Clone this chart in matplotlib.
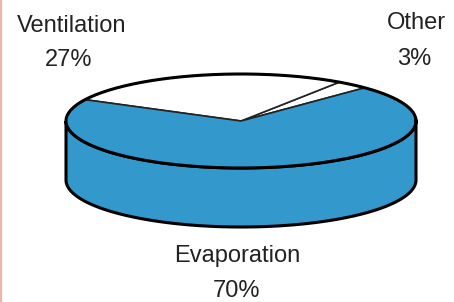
import numpy as np
import matplotlib
matplotlib.use("Agg")
import matplotlib.pyplot as plt
from matplotlib.patches import Wedge, Polygon
from matplotlib.transforms import Affine2D

labels = ["Other", "Ventilation", "Evaporation"]
values = [3, 27, 70]
colors = ["#ffffff", "#ffffff", "#3399cc"]
start_angle = 45.0

fig = plt.figure(figsize=(4.54, 3.02), dpi=100)
ax = fig.add_axes([0, 0, 1, 1])
ax.set_xlim(0, 454)
ax.set_ylim(302, 0)
ax.axis("off")

cx, cy, a, b, depth = 241, 121, 175, 47, 59
tr = Affine2D().scale(a, -b).translate(cx, cy) + ax.transData

# side (front half)
th = np.linspace(np.pi, 2 * np.pi, 200)
top = np.column_stack([cx + a * np.cos(th), cy - b * np.sin(th)])
bot = np.column_stack([cx + a * np.cos(th[::-1]), cy - b * np.sin(th[::-1]) + depth])
side = Polygon(np.vstack([top, bot]), closed=True, facecolor=colors[2],
               edgecolor="black", lw=2.2, zorder=1)
ax.add_patch(side)

# top wedges from data
total = sum(values)
ang = start_angle
for v, c in zip(values, colors):
    span = 360.0 * v / total
    w = Wedge((0, 0), 1, ang, ang + span, facecolor=c, edgecolor="#222222",
              lw=1.2, transform=tr, zorder=2)
    ax.add_patch(w)
    ang += span

# top outline
tt = np.linspace(0, 2 * np.pi, 400)
ax.plot(cx + a * np.cos(tt), cy - b * np.sin(tt), color="black", lw=2.2, zorder=3)

tc = "#222222"
fs = 17
ax.text(72, 32, "Ventilation", ha="center", va="baseline", fontsize=fs,
        family="Liberation Sans", color=tc)
ax.text(69, 66, "27%", ha="center", va="baseline", fontsize=fs,
        family="Liberation Sans", color=tc)
ax.text(416, 29, "Other", ha="center", va="baseline", fontsize=fs,
        family="Liberation Sans", color=tc)
ax.text(414, 65, "3%", ha="center", va="baseline", fontsize=fs,
        family="Liberation Sans", color=tc)
ax.text(237, 262, "Evaporation", ha="center", va="baseline", fontsize=fs,
        family="Liberation Sans", color=tc)
ax.text(236, 297, "70%", ha="center", va="baseline", fontsize=fs,
        family="Liberation Sans", color=tc)

ax.plot([0.8, 0.8], [0, 302], color="#f0b4a4", lw=1.6, zorder=5)

fig.savefig("out.png", dpi=100)
